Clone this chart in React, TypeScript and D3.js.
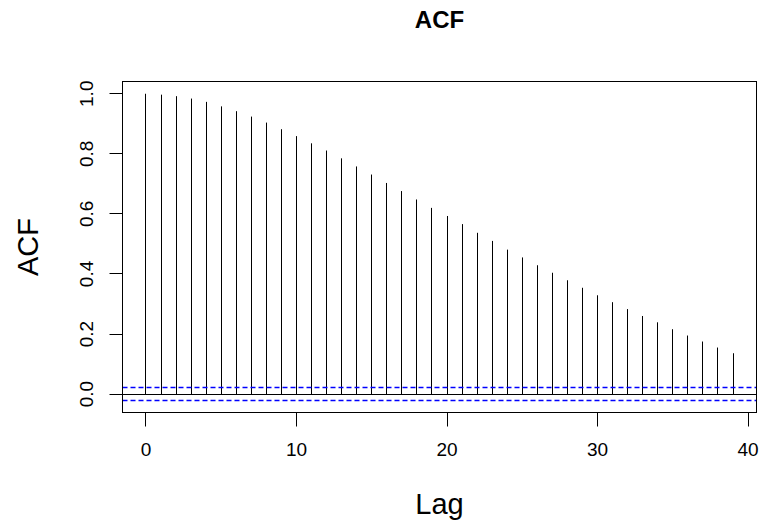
import React from "react";
import * as d3 from "d3";

const lags: number[] = Array.from({ length: 40 }, (_, i) => i);
const acfValues: number[] = [
  1.0, 0.997, 0.992, 0.984, 0.973, 0.958, 0.942, 0.924, 0.904, 0.882,
  0.859, 0.835, 0.811, 0.785, 0.758, 0.731, 0.703, 0.676, 0.648, 0.620,
  0.593, 0.566, 0.537, 0.510, 0.481, 0.455, 0.429, 0.404, 0.379, 0.354,
  0.329, 0.306, 0.283, 0.260, 0.239, 0.216, 0.195, 0.175, 0.155, 0.136,
];
const confLimit = 0.0205;
const xTicks: number[] = [0, 10, 20, 30, 40];
const yTicks: number[] = [0, 0.2, 0.4, 0.6, 0.8, 1.0];

const W = 765;
const H = 527;
const left = 122.5;
const right = 756.5;
const top = 81.5;
const bottom = 412.5;
const font = "'Liberation Sans', Arial, Helvetica, sans-serif";

export default function App() {
  const xMin = d3.min(lags)!;
  const xMax = d3.max(lags)!;
  const xPad = (xMax - xMin) * 0.04;
  const yLo = Math.min(0, -confLimit, d3.min(acfValues)!);
  const yHi = Math.max(confLimit, d3.max(acfValues)!);
  const yPad = (yHi - yLo) * 0.04;
  const x = d3.scaleLinear().domain([xMin - xPad, xMax + xPad]).range([left, right]);
  const y = d3.scaleLinear().domain([yLo - yPad, yHi + yPad]).range([bottom, top]);
  const cx = (left + right) / 2;
  const cy = (top + bottom) / 2;
  const crisp = (v: number) => Math.round(v - 0.5) + 0.5;

  return (
    <svg
      width={W}
      height={H}
      style={{ position: "fixed", left: 0, top: 0, background: "#fff" }}
      fontFamily={font}
    >
      <rect x={0} y={0} width={W} height={H} fill="#fff" />
      <text x={cx} y={28} textAnchor="middle" fontSize={24} fontWeight="bold" fill="#000">
        ACF
      </text>
      {/* bars */}
      {lags.map((l, i) => (
        <line
          key={l}
          x1={crisp(x(l))}
          x2={crisp(x(l))}
          y1={y(0)}
          y2={y(acfValues[i])}
          stroke="#000"
          strokeWidth={1}
        />
      ))}
      {/* zero line */}
      <line x1={left} x2={right} y1={crisp(y(0))} y2={crisp(y(0))} stroke="#000" strokeWidth={1} />
      {/* confidence limits */}
      {[confLimit, -confLimit].map((c) => (
        <line
          key={c}
          x1={left}
          x2={right}
          y1={crisp(y(c))}
          y2={crisp(y(c))}
          stroke="#0000FF"
          strokeWidth={1.5}
          strokeDasharray="5,3"
        />
      ))}
      {/* box */}
      <rect x={left} y={top} width={right - left} height={bottom - top} fill="none" stroke="#000" strokeWidth={1} />
      {/* x axis */}
      {xTicks.map((t) => (
        <g key={t}>
          <line x1={crisp(x(t))} x2={crisp(x(t))} y1={bottom} y2={bottom + 14} stroke="#000" />
          <text x={x(t)} y={456} textAnchor="middle" fontSize={19} fill="#000">
            {t}
          </text>
        </g>
      ))}
      {/* y axis */}
      {yTicks.map((t) => (
        <g key={t}>
          <line x1={left} x2={left - 13} y1={crisp(y(t))} y2={crisp(y(t))} stroke="#000" />
          <text
            transform={`translate(93,${y(t)}) rotate(-90)`}
            textAnchor="middle"
            fontSize={19}
            fill="#000"
          >
            {t.toFixed(1)}
          </text>
        </g>
      ))}
      <text x={cx} y={514} textAnchor="middle" fontSize={29} fill="#000">
        Lag
      </text>
      <text transform={`translate(38,${cy}) rotate(-90)`} textAnchor="middle" fontSize={29} fill="#000">
        ACF
      </text>
    </svg>
  );
}
